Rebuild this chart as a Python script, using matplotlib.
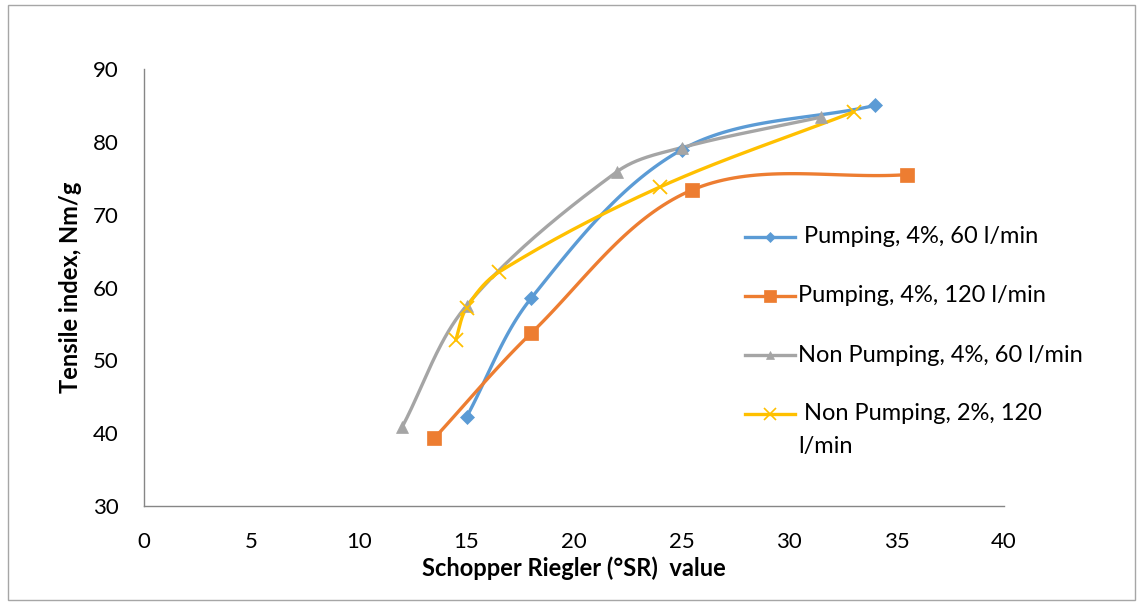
import numpy as np
import matplotlib
matplotlib.use("Agg")
import matplotlib.pyplot as plt
from matplotlib.lines import Line2D
from matplotlib.patches import Rectangle

plt.rcParams["font.family"] = ["Lato", "DejaVu Sans"]

# data
pump60_x = [15, 18, 25, 34]
pump60_y = [42.2, 58.5, 78.9, 85.0]
pump120_x = [13.5, 18, 25.5, 35.5]
pump120_y = [39.3, 53.7, 73.4, 75.5]
nonpump60_x = [12, 15, 22, 25, 31.5]
nonpump60_y = [40.8, 57.5, 75.9, 79.2, 83.4]
nonpump120_x = [14.5, 15, 16.5, 24, 33]
nonpump120_y = [52.8, 57.2, 62.1, 73.8, 84.1]

labels = [" Pumping, 4%, 60 l/min", "Pumping, 4%, 120 l/min",
          "Non Pumping, 4%, 60 l/min", " Non Pumping, 2%, 120"]
colors = ["#5B9BD5", "#ED7D31", "#A5A5A5", "#FFC000"]
markers = ["D", "s", "^", "x"]
msizes = [7, 10, 8, 10]

xticks = [0, 5, 10, 15, 20, 25, 30, 35, 40]
yticks = [30, 40, 50, 60, 70, 80, 90]

W, H = 1137, 605
fig = plt.figure(figsize=(W / 100, H / 100), dpi=100)
ax = fig.add_axes([144 / W, 1 - 506 / H, (1004 - 144) / W, (506 - 69) / H])
ax.set_xlim(0, 40)
ax.set_ylim(30, 90)


def smooth(ax, xs, ys, n=40):
    """Smoothed line through the points, bezier handles built in display
    space and scaled to the neighbouring segment length."""
    pts = ax.transData.transform(np.column_stack([xs, ys]))
    p = np.vstack([pts[0], pts, pts[-1]])
    out = []
    t = np.linspace(0, 1, n)[:, None]
    for i in range(1, len(p) - 2):
        p0, p3 = p[i], p[i + 1]
        seg_len = np.linalg.norm(p3 - p0)
        d0 = p[i + 1] - p[i - 1]
        d1 = p[i + 2] - p[i]
        d0 = d0 / np.linalg.norm(d0)
        d1 = d1 / np.linalg.norm(d1)
        c1 = p0 + d0 * seg_len / 3
        c2 = p3 - d1 * seg_len / 3
        seg = ((1 - t) ** 3) * p0 + 3 * ((1 - t) ** 2) * t * c1 \
            + 3 * (1 - t) * t ** 2 * c2 + t ** 3 * p3
        out.append(seg)
    curve = ax.transData.inverted().transform(np.vstack(out))
    return curve[:, 0], curve[:, 1]


series = [(pump60_x, pump60_y), (pump120_x, pump120_y),
          (nonpump60_x, nonpump60_y), (nonpump120_x, nonpump120_y)]

for (xs, ys), c, m, ms in zip(series, colors, markers, msizes):
    sx, sy = smooth(ax, xs, ys)
    ax.plot(sx, sy, color=c, lw=2.4, zorder=3, solid_capstyle="round")
    ax.plot(xs, ys, ls="none", marker=m, ms=ms, color=c,
            markeredgewidth=1.3 if m == "x" else 0.5, zorder=4)

for side in ["top", "right"]:
    ax.spines[side].set_visible(False)
for side in ["left", "bottom"]:
    ax.spines[side].set_color("#868686")
    ax.spines[side].set_linewidth(1.0)

ax.set_xticks(xticks)
ax.set_yticks(yticks)
ax.tick_params(axis="both", length=0, labelsize=16, colors="#000000")
ax.tick_params(axis="x", pad=19)
ax.tick_params(axis="y", pad=18)

ax.set_xlabel("Schopper Riegler (°SR)  value", fontsize=17, fontweight="bold",
              labelpad=3)
ax.set_ylabel("Tensile index, Nm/g", fontsize=17, fontweight="bold",
              labelpad=8)

# legend drawn by hand to mimic the wrapped last entry
leg_y = [237, 296, 355, 414]
for yy, lab, c, m, ms in zip(leg_y, labels, colors, markers, msizes):
    fy = 1 - yy / H
    fig.add_artist(Line2D([745 / W, 795 / W], [fy, fy], color=c, lw=2.4,
                          transform=fig.transFigure))
    fig.add_artist(Line2D([770 / W], [fy], color=c, marker=m, ms=ms * 0.8,
                          markeredgewidth=1.2 if m == "x" else 0.5,
                          transform=fig.transFigure))
    fig.text(798 / W, fy, lab, fontsize=17, va="center", ha="left")
fig.text(798 / W, 1 - 446 / H, "l/min", fontsize=17, va="center", ha="left")

fig.add_artist(Rectangle((8 / W, 5 / H), (1135 - 8) / W, (600 - 5) / H,
                         fill=False, edgecolor="#a6a6a6", lw=1.0,
                         transform=fig.transFigure))

fig.savefig("out.png", dpi=100)
